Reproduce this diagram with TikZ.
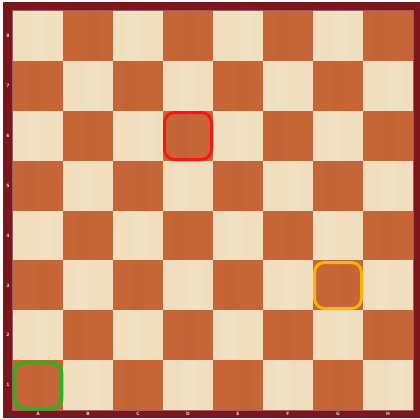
\documentclass[tikz,border=0pt]{standalone}
\usepackage{fontspec}
\setsansfont{DejaVu Sans}
\begin{document}
\begin{tikzpicture}[x=1pt,y=-1pt,
  coordlabel/.style={text=labelcol,font=\sffamily\bfseries\fontsize{4.5}{5}\selectfont,inner sep=0pt},
  highlight/.style={line width=3pt,rounded corners=10pt}]
\definecolor{darkwood}{RGB}{198,102,56}
\definecolor{lightwood}{RGB}{240,222,190}
\definecolor{framecol}{RGB}{122,22,28}
\definecolor{labelcol}{RGB}{235,205,200}
\definecolor{hlred}{RGB}{250,20,20}
\definecolor{hlorange}{RGB}{255,180,0}
\definecolor{hlgreen}{RGB}{40,180,30}
\useasboundingbox (0,0) rectangle (420,418);
\fill[white] (0,0) rectangle (420,418);
\fill[framecol] (3,2) rectangle (420,418);
\draw[framecol!70!white,line width=0.6pt] (12.5,10.5) rectangle (413.5,410.5);
\foreach \f in {1,...,8}{
  \foreach \r in {1,...,8}{
    \pgfmathtruncatemacro{\sqpar}{mod(\f+\r,2)}
    \pgfmathsetmacro{\xa}{13+50*(\f-1)}
    \pgfmathsetmacro{\ya}{11+49.875*(8-\r)}
    \pgfmathsetmacro{\off}{8+mod(7*\f+3*\r,20)}
    \ifnum\sqpar=0
      \fill[darkwood] (\xa,\ya) rectangle ++(50,49.875);
      \fill[darkwood!80!black,opacity=0.07] (\xa+\off,\ya) rectangle ++(12,49.875);
    \else
      \fill[lightwood] (\xa,\ya) rectangle ++(50,49.875);
      \fill[white,opacity=0.10] (\xa+\off,\ya) rectangle ++(14,49.875);
    \fi
  }
}
\foreach \r in {1,...,8}{
  \node[coordlabel] (rank\r) at (8,{11+49.875*(8-\r)+25}) {\r};
}
\foreach \f/\l in {1/A,2/B,3/C,4/D,5/E,6/F,7/G,8/H}{
  \node[coordlabel] (file\l) at ({13+50*(\f-1)+25},414.2) {\l};
}
\draw[highlight,hlred] (164.5,112.5) rectangle (211.5,159.5);
\draw[highlight,hlorange] (314.5,262.5) rectangle (361.5,308.5);
\draw[highlight,hlgreen,line width=3.5pt] (14.5,362.5) rectangle (61.5,408.5);
\end{tikzpicture}
\end{document}
